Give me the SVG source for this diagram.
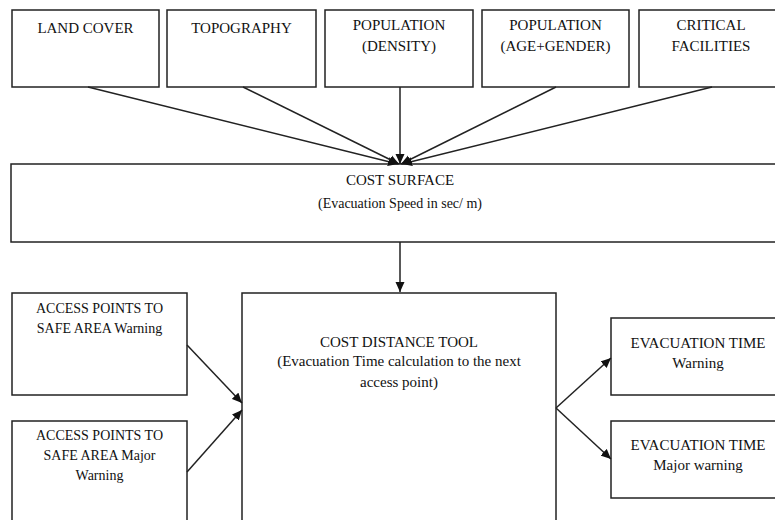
<svg xmlns="http://www.w3.org/2000/svg" width="775" height="520" viewBox="0 0 775 520">
<style>
.box{fill:#fff;stroke:#222;stroke-width:1.5}
.t{font-size:15px;fill:#111;text-anchor:middle}
.s{font-size:14px}
.c{stroke:#222;stroke-width:1.5;fill:none;marker-end:url(#ah)}
</style>
<defs>
<marker id="ah" viewBox="0 0 10 10" refX="10" refY="5" markerWidth="10" markerHeight="10" markerUnits="userSpaceOnUse" orient="auto">
<path d="M0,0.5 L10,5 L0,9.5 z" fill="#111"/>
</marker>
</defs>
<rect width="775" height="520" fill="#fff"/>
<g font-family="'Liberation Serif', 'Times New Roman', Times, serif">
<g id="land-cover"><rect class="box" x="12" y="10" width="147" height="77"/><text class="t" x="85.5" y="33">LAND COVER</text></g>
<g id="topography"><rect class="box" x="167" y="10" width="149" height="77"/><text class="t" x="241.5" y="33">TOPOGRAPHY</text></g>
<g id="pop-density"><rect class="box" x="325" y="10" width="148" height="77"/><text class="t" x="399" y="30">POPULATION</text><text class="t" x="399" y="51">(DENSITY)</text></g>
<g id="pop-age"><rect class="box" x="482" y="10" width="147" height="77"/><text class="t" x="555.5" y="30">POPULATION</text><text class="t" x="555.5" y="51">(AGE+GENDER)</text></g>
<g id="critical"><rect class="box" x="639" y="10" width="147" height="77"/><text class="t" x="711" y="30">CRITICAL</text><text class="t" x="711" y="51">FACILITIES</text></g>
<g id="cost-surface"><rect class="box" x="11" y="164" width="780" height="78"/><text class="t" x="400" y="185">COST SURFACE</text><text class="t s" x="400" y="208">(Evacuation Speed in sec/ m)</text></g>
<g id="access-warning"><rect class="box" x="12" y="293" width="175" height="102"/><text class="t s" x="99.5" y="313">ACCESS POINTS TO</text><text class="t s" x="99.5" y="333">SAFE AREA Warning</text></g>
<g id="access-major"><rect class="box" x="12" y="421" width="175" height="110"/><text class="t s" x="99.5" y="440">ACCESS POINTS TO</text><text class="t s" x="99.5" y="460">SAFE AREA Major</text><text class="t s" x="99.5" y="480">Warning</text></g>
<g id="cost-distance"><rect class="box" x="242" y="293" width="314" height="240"/><text class="t" x="399" y="347">COST DISTANCE TOOL</text><text class="t" x="399" y="366">(Evacuation Time calculation to the next</text><text class="t" x="399" y="387">access point)</text></g>
<g id="evac-warning"><rect class="box" x="611" y="318" width="174" height="77"/><text class="t" x="698" y="348">EVACUATION TIME</text><text class="t" x="698" y="368">Warning</text></g>
<g id="evac-major"><rect class="box" x="611" y="421" width="174" height="77"/><text class="t" x="698" y="450">EVACUATION TIME</text><text class="t" x="698" y="470">Major warning</text></g>
</g>
<g id="connectors">
<line class="c" x1="88" y1="87" x2="398" y2="164"/>
<line class="c" x1="243" y1="87" x2="399" y2="164"/>
<line class="c" x1="400" y1="87" x2="400" y2="164"/>
<line class="c" x1="556" y1="87" x2="401" y2="164"/>
<line class="c" x1="712" y1="87" x2="402" y2="164"/>
<line class="c" x1="400" y1="242" x2="400" y2="292"/>
<line class="c" x1="187" y1="345" x2="242" y2="403"/>
<line class="c" x1="187" y1="472" x2="242" y2="410"/>
<line class="c" x1="556" y1="408" x2="611" y2="358"/>
<line class="c" x1="556" y1="408" x2="611" y2="459"/>
</g>
</svg>
